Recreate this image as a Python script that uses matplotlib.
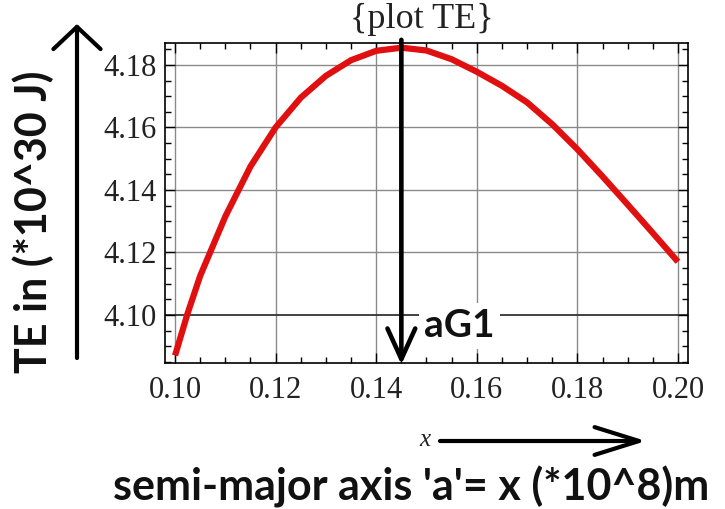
import numpy as np
import matplotlib.pyplot as plt
from matplotlib.ticker import MultipleLocator, FormatStrFormatter

# values
x_vals = [0.100, 0.1025, 0.105, 0.110, 0.115, 0.120, 0.125, 0.130, 0.135, 0.140,
          0.145, 0.150, 0.155, 0.160, 0.165, 0.170, 0.175, 0.180, 0.185, 0.190,
          0.195, 0.200]
te_vals = [4.087, 4.1005, 4.1125, 4.1315, 4.1475, 4.160, 4.1695, 4.1765, 4.1815, 4.1845,
           4.1855, 4.1846, 4.1818, 4.1778, 4.1733, 4.1680, 4.1610, 4.1530, 4.1443, 4.1353,
           4.1262, 4.1170]
aG1 = 0.145
x_ticks = [0.10, 0.12, 0.14, 0.16, 0.18, 0.20]
y_ticks = [4.10, 4.12, 4.14, 4.16, 4.18]

W, H = 725, 509
def fp(x, y):
    # figure pixel -> figure fraction
    return (x / W, 1 - y / H)

serif = 'Liberation Serif'
sans = ['Lato', 'DejaVu Sans']

fig = plt.figure(figsize=(7.25, 5.09), dpi=100)
ax = fig.add_axes([165 / W, 1 - 363 / H, (688 - 165) / W, (363 - 43) / H])

ax.plot(x_vals, te_vals, color='#e01010', lw=4.5, solid_capstyle='butt',
        solid_joinstyle='round', zorder=3)

ax.set_xlim(0.098, 0.202)
ax.set_ylim(4.0846, 4.187)
ax.set_xticks(x_ticks)
ax.set_yticks(y_ticks)
ax.xaxis.set_major_formatter(FormatStrFormatter('%.2f'))
ax.yaxis.set_major_formatter(FormatStrFormatter('%.2f'))
ax.xaxis.set_minor_locator(MultipleLocator(0.005))
ax.yaxis.set_minor_locator(MultipleLocator(0.005))
ax.tick_params(which='both', direction='in', top=True, right=True, width=1)
ax.tick_params(which='major', length=7)
ax.tick_params(which='minor', length=4)
ax.tick_params(axis='x', pad=9)
ax.tick_params(axis='y', pad=6)
for lab in ax.get_xticklabels() + ax.get_yticklabels():
    lab.set_fontfamily(serif)
    lab.set_fontsize(22)
    lab.set_color('#222222')
for s in ax.spines.values():
    s.set_linewidth(1.2)

for xv in x_ticks:
    ax.axvline(xv, color='#8a8a8a', lw=1, zorder=1)
for yv in y_ticks[1:]:
    ax.axhline(yv, color='#8a8a8a', lw=1, zorder=1)
ax.axhline(y_ticks[0], color='#333333', lw=1.3, zorder=1)

# vertical arrow at aG1
ax.annotate('', xy=(aG1, -0.005), xycoords=ax.get_xaxis_transform(),
            xytext=(aG1, 1.01), textcoords=ax.get_xaxis_transform(),
            arrowprops=dict(arrowstyle='->,head_length=2.2,head_width=1.0',
                            lw=3.3, color='k', shrinkA=0, shrinkB=0),
            annotation_clip=False)
ax.text(aG1 + 0.0046, 4.0965, 'aG1', fontsize=28, fontweight='bold', family=sans,
        ha='left', va='center', color='#111111', zorder=4,
        bbox=dict(facecolor='white', edgecolor='none', pad=4))

fig.text(*fp(422, 19), '{plot TE}', fontsize=26, family=serif, ha='center',
         va='center', color='#222222')

# left up arrow
fig.add_artist(plt.Annotation('', xy=fp(77, 24), xycoords='figure fraction',
               xytext=fp(77, 358), textcoords='figure fraction',
               arrowprops=dict(arrowstyle='->,head_length=1.6,head_width=1.7',
                               lw=3, color='k', shrinkA=0, shrinkB=0)))
fig.text(*fp(33, 222), 'TE in (*10^30 J)', rotation=90, fontsize=31,
         fontweight='bold', family=sans, ha='center', va='center', color='#111111')

# bottom x arrow
fig.text(*fp(425, 440), 'x', fontsize=18, style='italic', family=serif,
         ha='center', va='center', color='#222222')
fig.add_artist(plt.Annotation('', xy=fp(646, 441), xycoords='figure fraction',
               xytext=fp(440, 441), textcoords='figure fraction',
               arrowprops=dict(arrowstyle='->,head_length=3.2,head_width=1.0',
                               lw=3, color='k', shrinkA=0, shrinkB=0)))
fig.text(*fp(411, 487), "semi-major axis 'a'= x (*10^8)m", fontsize=31,
         fontweight='bold', family=sans, ha='center', va='center', color='#111111')

fig.savefig('out.png', dpi=100, facecolor='white')
